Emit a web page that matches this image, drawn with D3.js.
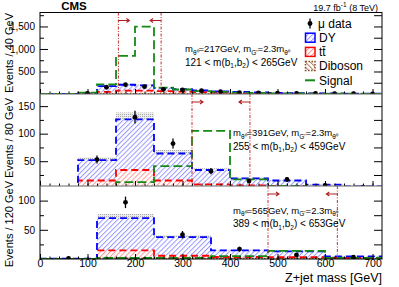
<!DOCTYPE html>
<html>
<head>
<meta charset="utf-8">
<script src="https://cdn.jsdelivr.net/npm/d3@7"></script>
<style>
body{margin:0;background:#fff;}
svg{font-family:"Liberation Sans",Arial,sans-serif;}
</style>
</head>
<body>
<svg id="chart" width="399" height="287"></svg>
<script>
// bin widths (GeV) for the three mass windows
var binW = [40, 80, 120];
var xMax = 720;

// top panel, 40 GeV bins
var dy40 = [0, 2, 9, 127, 130, 113, 69, 52, 39, 30, 24, 18, 14, 11, 8, 7, 5, 4];
var tt40 = [0, 0, 3, 45, 70, 72, 62, 50, 38, 28, 20, 15, 11, 8, 6, 4, 3, 2];
var vv40 = [0, 0, 0, 3, 5, 5, 4, 3, 3, 2, 1, 1, 1, 1, 1, 1, 1, 1];
var sig40 = [0, 5, 30, 215, 845, 1495, 140, 100, 65, 45, 30, 22, 15, 12, 10, 8, 6, 5];
var data40 = [0, 0, 15, 150, 207, 162, 104, 89, 73, 51, 30, 22, 18, 15, 11, 9, 6, 4];

// middle panel, 80 GeV bins
var dy80 = [1, 37, 92, 49, 26, 13, 10, 4, 2];
var tt80 = [0, 13, 32, 14, 7, 5, 4, 3, 2];
var vv80 = [0, 2, 2, 1, 1, 1, 1, 0.6, 0.4];
var sig80 = [0, 3, 12, 41, 105, 17, 5, 3, 2];
var data80 = [0, 53, 130, 82, 32, 14, 17, 6, 3];

// bottom panel, 120 GeV bins
var dy120 = [0.5, 55.3, 31.9, 11.3, 10, 2.5];
var tt120 = [0, 13.7, 5, 3, 2.6, 1.8];
var vv120 = [0, 1, 0.6, 0.4, 0.4, 0.2];
var sig120 = [0.3, 1.7, 2, 5, 14, 2];
var data120 = [1, 97, 41.5, 17, 7, 3];

// signal hypotheses and selection windows
var mTheta = [217, 391, 565];
var mbbLo = [121, 255, 389];
var mbbHi = [265, 459, 653];
var cutLo = [165, 320, 480];
var cutHi = [255, 442, 626];

var yDomain = [[0, 1810], [5, 172], [0, 125]];
var yMajor = [[500, 1000, 1500], [50, 100, 150], [50, 100]];
var yMinorStep = [250, 25, 25];
var yTitles = ["Events / 40 GeV", "Events / 80 GeV", "Events / 120 GeV"];
var xTicks = [0, 100, 200, 300, 400, 500, 600, 700];
var bkgUnc = 0.1;

var panelTop = [12.5, 94, 186];
var panelBot = [94, 186, 259];
var yTitleEnd = [13, 98, 181];
var annX = [185, 233, 233];
var annY = [52, 136, 213.5];

var svg = d3.select("#chart");
var x = d3.scaleLinear().domain([0, xMax]).range([40, 382]);
var defs = svg.append("defs");

function hatch(id, color, angle){
	var p = defs.append("pattern").attr("id", id)
		.attr("patternUnits", "userSpaceOnUse").attr("width", 3.5).attr("height", 3.5)
		.attr("patternTransform", "rotate(" + angle + ")");
	p.append("rect").attr("width", 3.5).attr("height", 3.5).attr("fill", "#ffffff");
	p.append("rect").attr("width", 1).attr("height", 3.5).attr("fill", color);
}
hatch("hDY", "#9a9aff", 45);
hatch("hTT", "#ff9a9a", 45);
hatch("hVV", "#b08060", -45);
var dots = defs.append("pattern").attr("id", "hUnc")
	.attr("patternUnits", "userSpaceOnUse").attr("width", 2).attr("height", 2);
dots.append("rect").attr("width", 2).attr("height", 2).attr("fill", "#ececec");
dots.append("rect").attr("width", 1).attr("height", 1).attr("fill", "#aaaaaa");

function stepPts(vals, w){
	var pts = [[0, 0]];
	vals.forEach(function(v, j){
		pts.push([j * w, v]);
		pts.push([(j + 1) * w, v]);
	});
	pts.push([vals.length * w, 0]);
	return pts;
}

function stepBand(lo, hi, w){
	var pts = [];
	lo.forEach(function(v, j){
		pts.push({x: j * w, y0: v, y1: hi[j]});
		pts.push({x: (j + 1) * w, y0: v, y1: hi[j]});
	});
	return pts;
}

function sub(t, txt){
	t.append("tspan").attr("font-size", 6.5).attr("dy", 2.5).text(txt);
	return t.append("tspan").attr("dy", -2.5);
}

var panels = [
	{dy: dy40, tt: tt40, vv: vv40, sig: sig40, obs: data40},
	{dy: dy80, tt: tt80, vv: vv80, sig: sig80, obs: data80},
	{dy: dy120, tt: tt120, vv: vv120, sig: sig120, obs: data120}
];

panels.forEach(function(p, i){
	var w = binW[i];
	var y = d3.scaleLinear().domain(yDomain[i]).range([panelBot[i], panelTop[i]]);

	defs.append("clipPath").attr("id", "clip" + i)
		.append("rect").attr("x", 40).attr("y", panelTop[i])
		.attr("width", 342).attr("height", panelBot[i] - panelTop[i]);

	var g = svg.append("g").attr("clip-path", "url(#clip" + i + ")");

	var rows = p.dy.map(function(d, j){ return {vv: p.vv[j], tt: p.tt[j], dy: p.dy[j]}; });
	var series = d3.stack().keys(["vv", "tt", "dy"])(rows);
	var total = series[2].map(function(d){ return d[1]; });

	var area = d3.area()
		.x(function(d){ return x(d.x); })
		.y0(function(d){ return y(d.y0); })
		.y1(function(d){ return y(d.y1); });
	var line = d3.line()
		.x(function(d){ return x(d[0]); })
		.y(function(d){ return y(d[1]); });

	// stat. uncertainty band
	g.append("path")
		.attr("d", area(stepBand(total.map(function(t){ return t * (1 - bkgUnc); }),
			total.map(function(t){ return t * (1 + bkgUnc); }), w)))
		.attr("fill", "url(#hUnc)");

	var fills = ["url(#hVV)", "url(#hTT)", "url(#hDY)"];
	var strokes = ["#8b4a20", "#ff0000", "#0000ff"];
	var dashes = ["1.5,1.5", "7,4", "7,4"];
	series.forEach(function(s, k){
		g.append("path")
			.attr("d", area(stepBand(s.map(function(d){ return d[0]; }), s.map(function(d){ return d[1]; }), w)))
			.attr("fill", fills[k]);
	});
	series.forEach(function(s, k){
		g.append("path")
			.attr("d", line(stepPts(s.map(function(d){ return d[1]; }), w)))
			.attr("fill", "none").attr("stroke", strokes[k])
			.attr("stroke-width", 1.8).attr("stroke-dasharray", dashes[k]);
	});

	g.append("path")
		.attr("d", line(stepPts(p.sig, w)))
		.attr("fill", "none").attr("stroke", "#138a13")
		.attr("stroke-width", 1.8).attr("stroke-dasharray", "9,4");

	// mass window
	[cutLo[i], cutHi[i]].forEach(function(c, k){
		g.append("line")
			.attr("x1", x(c)).attr("x2", x(c))
			.attr("y1", panelTop[i]).attr("y2", panelBot[i])
			.attr("stroke", "#cc2a2a").attr("stroke-width", 1)
			.attr("stroke-dasharray", "3,1.5,1,1.5");
		var ay = panelTop[i] + 8;
		var dir = (k == 0 ? 1 : -1);
		var x0 = x(c), x1 = x(c) + dir * 11;
		g.append("path")
			.attr("d", "M" + x0 + "," + ay + "L" + x1 + "," + ay +
				"M" + (x1 - dir * 3) + "," + (ay - 2) + "L" + x1 + "," + ay + "L" + (x1 - dir * 3) + "," + (ay + 2))
			.attr("fill", "none").attr("stroke", "#b02020").attr("stroke-width", 1.1);
	});

	// data
	var pts = p.obs.map(function(v, j){ return {c: (j + 0.5) * w, v: v}; })
		.filter(function(d){ return d.v > 0; });
	g.selectAll(".err" + i).data(pts).enter().append("line")
		.attr("x1", function(d){ return x(d.c); })
		.attr("x2", function(d){ return x(d.c); })
		.attr("y1", function(d){ return y(d.v - Math.sqrt(d.v)); })
		.attr("y2", function(d){ return y(d.v + Math.sqrt(d.v)); })
		.attr("stroke", "#000").attr("stroke-width", 1.3);
	g.selectAll(".pt" + i).data(pts).enter().append("circle")
		.attr("cx", function(d){ return x(d.c); })
		.attr("cy", function(d){ return y(d.v); })
		.attr("r", 2.4).attr("fill", "#000");

	// axes
	var minor = d3.range(yMinorStep[i], yDomain[i][1], yMinorStep[i])
		.filter(function(v){ return v > yDomain[i][0] && yMajor[i].indexOf(v) < 0; });
	var ax = svg.append("g").attr("font-size", 10);
	ax.append("g").attr("transform", "translate(40,0)")
		.call(d3.axisLeft(y).tickValues(yMajor[i]).tickSize(-8).tickPadding(5))
		.call(function(s){ s.select(".domain").remove(); });
	ax.append("g").attr("transform", "translate(40,0)")
		.call(d3.axisLeft(y).tickValues(minor).tickSize(-4).tickFormat(""))
		.call(function(s){ s.select(".domain").remove(); s.selectAll("text").remove(); });
	ax.append("g").attr("transform", "translate(382,0)")
		.call(d3.axisRight(y).tickValues(yMajor[i].concat(minor)).tickSize(-8).tickFormat(""))
		.call(function(s){ s.select(".domain").remove(); s.selectAll("text").remove(); });
	var xa = ax.append("g").attr("transform", "translate(0," + panelBot[i] + ")")
		.call(d3.axisBottom(x).tickValues(xTicks).tickSize(-5).tickPadding(0.5)
			.tickFormat(i == 2 ? d3.format("d") : ""))
		.call(function(s){ s.select(".domain").remove(); });
	if(i == 2){
		xa.selectAll("text").attr("font-size", 10.5);
	}
	else{
		xa.selectAll("text").remove();
	}
	ax.append("g").attr("transform", "translate(0," + panelBot[i] + ")")
		.call(d3.axisBottom(x).tickValues(d3.range(20, xMax, 20)).tickSize(-2.5).tickFormat(""))
		.call(function(s){ s.select(".domain").remove(); s.selectAll("text").remove(); });

	svg.append("text")
		.attr("transform", "translate(13," + yTitleEnd[i] + ") rotate(-90)")
		.attr("text-anchor", "end").attr("font-size", 11).text(yTitles[i]);

	// annotation
	var t1 = svg.append("text").attr("x", annX[i]).attr("y", annY[i]).attr("font-size", 9.5);
	t1.append("tspan").text("m");
	var r = sub(t1, "θ⁰");
	r.text("=" + mTheta[i] + "GeV, m");
	r = sub(t1, "G'");
	r.text("=2.3m");
	sub(t1, "θ⁰");
	var t2 = svg.append("text").attr("x", annX[i]).attr("y", annY[i] + 13.5).attr("font-size", 10);
	t2.append("tspan").text(mbbLo[i] + " < m(b");
	r = sub(t2, "1");
	r.text(",b");
	r = sub(t2, "2");
	r.text(") < " + mbbHi[i] + "GeV");
});

// frame
svg.append("rect").attr("x", 40).attr("y", 12.5).attr("width", 342).attr("height", 246.5)
	.attr("fill", "none").attr("stroke", "#000").attr("stroke-width", 1);
[94, 186].forEach(function(v){
	svg.append("line").attr("x1", 40).attr("x2", 382).attr("y1", v).attr("y2", v)
		.attr("stroke", "#666").attr("stroke-width", 1);
});

svg.append("text").attr("x", 74).attr("y", 9.5).attr("text-anchor", "middle")
	.attr("font-size", 11.5).attr("font-weight", "bold").text("CMS");
var lumi = svg.append("text").attr("x", 378).attr("y", 10.5).attr("text-anchor", "end").attr("font-size", 9);
lumi.append("tspan").text("19.7 fb");
lumi.append("tspan").attr("font-size", 6.5).attr("dy", -3.5).text("-1");
lumi.append("tspan").attr("dy", 3.5).text(" (8 TeV)");

svg.append("text").attr("x", 382).attr("y", 281.5).attr("text-anchor", "end")
	.attr("font-size", 12.5).text("Z+jet mass [GeV]");

// legend
var legY = d3.range(5).map(function(k){ return 23.5 + 14.2 * k; });
var leg = svg.append("g").attr("font-size", 12);
leg.append("line").attr("x1", 310).attr("x2", 310).attr("y1", legY[0] - 5).attr("y2", legY[0] + 5)
	.attr("stroke", "#000").attr("stroke-width", 1.3);
leg.append("circle").attr("cx", 310).attr("cy", legY[0]).attr("r", 2.4);
var boxFill = ["url(#hDY)", "url(#hTT)", "url(#hVV)"];
var boxLine = ["#0000ff", "#ff0000", "#8b4a20"];
var boxDash = [null, null, "1.5,1.5"];
boxFill.forEach(function(f, k){
	leg.append("rect").attr("x", 305.5).attr("y", legY[k + 1] - 4.5).attr("width", 9.5).attr("height", 9)
		.attr("fill", f).attr("stroke", boxLine[k]).attr("stroke-width", 1.5)
		.attr("stroke-dasharray", boxDash[k]);
});
leg.append("line").attr("x1", 305).attr("x2", 315).attr("y1", legY[4]).attr("y2", legY[4])
	.attr("stroke", "#138a13").attr("stroke-width", 2);
var legText = ["μ data", "DY", "tt\u0304", "Diboson", "Signal"];
legText.forEach(function(t, k){
	leg.append("text").attr("x", k == 0 ? 318 : 319).attr("y", legY[k] + 4.3).text(t);
});
</script>
</body>
</html>
